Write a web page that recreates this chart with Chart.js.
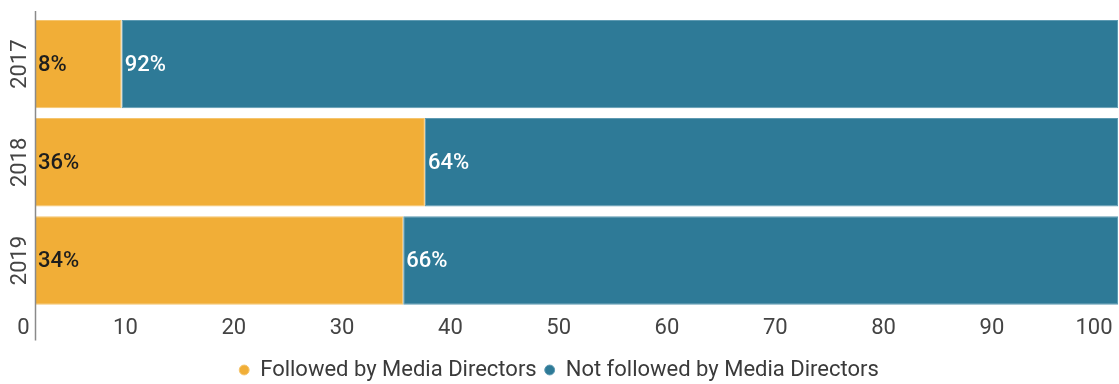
<!DOCTYPE html>
<html>
<head>
<meta charset="utf-8">
<script src="https://cdn.jsdelivr.net/npm/chart.js@4/dist/chart.umd.min.js"></script>
<style>
  html, body { margin: 0; padding: 0; background: #fff; }
  #wrap { width: 1119px; height: 384px; }
</style>
</head>
<body>
<div id="wrap"><canvas id="c"></canvas></div>
<script>
const years = ['2017', '2018', '2019'];
const followed = [8, 36, 34];
const notFollowed = [92, 64, 66];
const seriesNames = ['Followed by Media Directors', 'Not followed by Media Directors'];
const xTicks = [0, 10, 20, 30, 40, 50, 60, 70, 80, 90, 100];

const ORANGE = '#F1AE37';
const BLUE = '#2E7A97';
const FONT = 'Roboto, "Noto Sans", sans-serif';

// Percentage written at the start of each bar segment
const segmentLabels = {
  id: 'segmentLabels',
  afterDatasetsDraw(chart) {
    const ctx = chart.ctx;
    ctx.save();
    ctx.font = '500 22px ' + FONT;
    ctx.textAlign = 'left';
    ctx.textBaseline = 'middle';
    chart.data.datasets.forEach((ds, di) => {
      const meta = chart.getDatasetMeta(di);
      ctx.fillStyle = di === 0 ? '#1d1d1d' : '#ffffff';
      meta.data.forEach((el, i) => {
        const p = el.getProps(['x', 'y', 'base'], true);
        ctx.fillText(ds.data[i] + '%', Math.min(p.base, p.x) + 3, p.y + 1);
      });
    });
    ctx.restore();
  }
};

// Vertical axis line running past the plot into the tick row
const leftRule = {
  id: 'leftRule',
  afterDraw(chart) {
    const ctx = chart.ctx;
    const x = Math.round(chart.scales.x.getPixelForValue(0)) + 0.5;
    ctx.save();
    ctx.strokeStyle = '#8a8a8a';
    ctx.lineWidth = 1.5;
    ctx.beginPath();
    ctx.moveTo(x, chart.chartArea.top - 4);
    ctx.lineTo(x, chart.chartArea.bottom + 31);
    ctx.stroke();
    ctx.restore();
  }
};

new Chart(document.getElementById('c'), {
  type: 'bar',
  data: {
    labels: years,
    datasets: [
      { label: seriesNames[0], data: followed, backgroundColor: ORANGE, borderColor: '#F5C56E', borderWidth: 1, borderSkipped: false },
      { label: seriesNames[1], data: notFollowed, backgroundColor: BLUE, borderColor: '#5E9AB2', borderWidth: 1, borderSkipped: false }
    ]
  },
  options: {
    indexAxis: 'y',
    responsive: true,
    maintainAspectRatio: false,
    animation: false,
    layout: { padding: { top: 15, right: 1, left: 0, bottom: -7 } },
    datasets: { bar: { barPercentage: 0.9, categoryPercentage: 1.0 } },
    scales: {
      x: {
        stacked: true,
        min: 0,
        max: 100,
        afterBuildTicks: s => { s.ticks = xTicks.map(v => ({ value: v })); },
        afterFit: s => { s.paddingRight = 0; s.height += 3; },
        grid: { display: false, drawTicks: false },
        border: { display: false },
        ticks: {
          align: 'end',
          padding: 6,
          color: '#444',
          font: { family: FONT, size: 22 },
          callback: v => v + ' '
        }
      },
      y: {
        stacked: true,
        afterFit: s => { s.width = 35; },
        grid: { display: false, drawTicks: false },
        border: { display: false },
        ticks: {
          minRotation: 90,
          maxRotation: 90,
          crossAlign: 'center',
          padding: -10,
          color: '#444',
          font: { family: FONT, size: 22 }
        }
      }
    },
    plugins: {
      legend: {
        position: 'bottom',
        labels: {
          usePointStyle: true,
          pointStyle: 'circle',
          boxWidth: 10,
          boxHeight: 7,
          padding: 8,
          color: '#3a3a3a',
          font: { family: FONT, size: 22 }
        }
      },
      tooltip: { enabled: false }
    }
  },
  plugins: [segmentLabels, leftRule]
});
</script>
</body>
</html>
